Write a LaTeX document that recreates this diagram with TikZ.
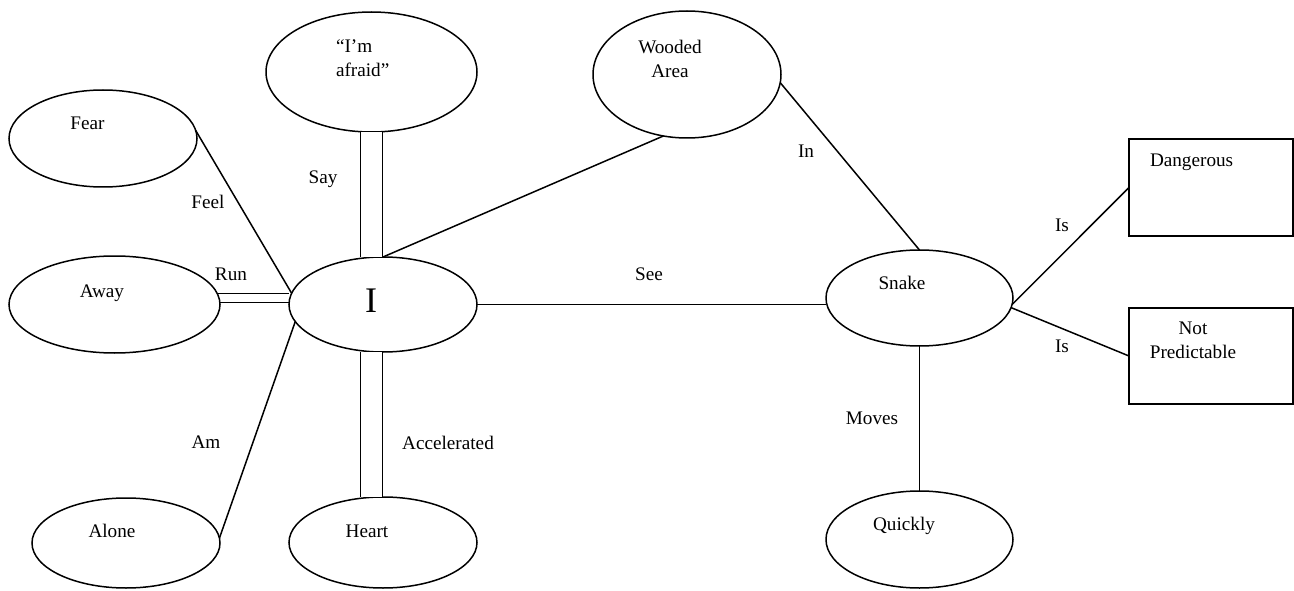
\documentclass[tikz,border=0pt]{standalone}
\usepackage{fontspec}
\setmainfont{Liberation Serif}
\usetikzlibrary{shapes.geometric}
\begin{document}
\begin{tikzpicture}[x=1pt,y=-1pt,line width=1.5pt,
  ell/.style={draw,ellipse,inner sep=0pt,outer sep=0pt},
  box/.style={draw,rectangle,inner sep=0pt,outer sep=0pt},
  txt/.style={inner sep=0pt,outer sep=0pt,anchor=base,font=\fontsize{19.2}{24}\selectfont},
  dbl/.style={double,double distance=20.5pt}]
\useasboundingbox (0,0) rectangle (1294,591);
% shapes
\node[ell,minimum width=188pt,minimum height=97pt] (fear) at (103,138.5) {};
\node[ell,minimum width=211pt,minimum height=97pt] (away) at (114.5,304.5) {};
\node[ell,minimum width=188pt,minimum height=90pt] (alone) at (126,543) {};
\node[ell,minimum width=188pt,minimum height=91pt] (heart) at (383,542.5) {};
\node[ell,minimum width=188pt,minimum height=95pt] (I) at (383,304.5) {};
\node[ell,minimum width=211pt,minimum height=120pt] (afraid) at (371.5,72) {};
\node[ell,minimum width=188pt,minimum height=127pt] (wooded) at (687,74.5) {};
\node[ell,minimum width=187pt,minimum height=96pt] (snake) at (919.5,298) {};
\node[ell,minimum width=187pt,minimum height=97pt] (quickly) at (919.5,539.5) {};
\node[box,minimum width=164pt,minimum height=97pt] (dang) at (1211,187.5) {};
\node[box,minimum width=164pt,minimum height=96pt] (np) at (1211,356) {};
% texts in shapes
\node[txt] (tfear) at (87.5,130) {Fear};
\node[txt] (taway) at (102,297) {Away};
\node[txt] (talone) at (112,537) {Alone};
\node[txt] (theart) at (367,537) {Heart};
\node[txt,font=\fontsize{36}{40}\selectfont] (tI) at (371,312) {I};
\node[txt,anchor=base west,align=left] (tafraid) at (336,77) {“I’m\\afraid”};
\node[txt,align=center] (twooded) at (670,78) {Wooded\\Area};
\node[txt] (tsnake) at (902,289) {Snake};
\node[txt] (tquickly) at (904,530) {Quickly};
\node[txt,anchor=base west] (tdang) at (1150,167) {Dangerous};
\node[txt,align=center] (tnp) at (1193,358) {Not\\Predictable};
% connectors
\draw (fear.5) -- (I.173);
\draw (away.6) -- (away.6 -| I.west);
\draw (away.1) -- (away.1 -| I.west);
\draw (I.191) -- (alone.3);
\draw[dbl] (afraid.south) -- (afraid.south |- I.north);
\draw[dbl] (I.south -| afraid.south) -- (heart.north -| afraid.south);
\draw (I.north) -- (wooded.249);
\draw (wooded.-5) -- (snake.north);
\draw (I.east) -- (I.east -| snake.west);
\draw (snake.-4) -- (dang.west);
\draw (snake.-6) -- (np.west);
\draw (snake.south) -- (quickly.north);
% connector labels
\node[txt] (lfeel) at (208,208) {Feel};
\node[txt] (lrun) at (231,280) {Run};
\node[txt] (lam) at (206,448) {Am};
\node[txt] (lsay) at (323,184) {Say};
\node[txt] (lacc) at (448,449) {Accelerated};
\node[txt] (lin) at (806,158) {In};
\node[txt] (lsee) at (649,280) {See};
\node[txt] (lis1) at (1062,232) {Is};
\node[txt] (lis2) at (1062,352) {Is};
\node[txt] (lmoves) at (872,424) {Moves};
\end{tikzpicture}
\end{document}
